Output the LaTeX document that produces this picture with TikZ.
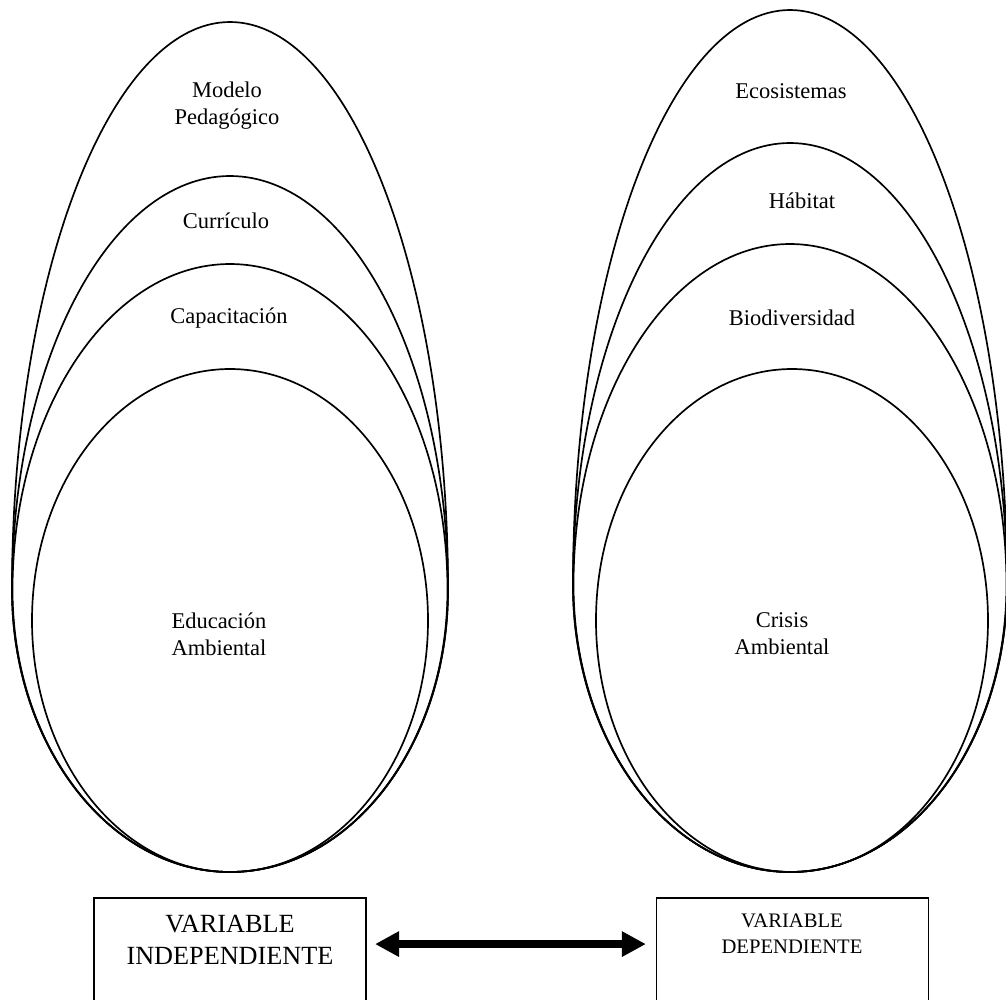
\documentclass[tikz,border=0pt]{standalone}
\usepackage{fontspec}
\setmainfont{Liberation Serif}
\usetikzlibrary{arrows.meta,positioning}
% egg: (centre of widest line)(half width : upper height : lower height)
\def\egg(#1)(#2:#3:#4){\draw (#1) ++(-#2,0) arc[start angle=180, end angle=360, x radius=#2, y radius=#3] arc[start angle=0, end angle=180, x radius=#2, y radius=#4] -- cycle;}

\tikzset{
  lbl/.style={align=center, font=\fontsize{12}{14.5}\selectfont, inner sep=0pt},
  varbox/.style={draw, line width=0.9pt, minimum width=5.1cm, minimum height=1.99cm, inner sep=0pt, outer sep=0pt},
  bigarrow/.style={line width=4.3pt, {Triangle[length=0.45cm,width=0.45cm]}-{Triangle[length=0.45cm,width=0.45cm]}}
}

\begin{document}
\begin{tikzpicture}[x=0.01875cm, y=-0.01875cm, line width=0.9pt]
	%%%%% FRAME %%%%%
	\useasboundingbox (0,0) rectangle (1006,1000);
	
	%%%%% LEFT: VARIABLE INDEPENDIENTE %%%%%
	\egg(230, 590)(218:568:282)
	\egg(230, 590)(218:414:282)
	\egg(230, 590)(217.5:326:282)
	\draw (230, 620.5) ellipse [x radius=198, y radius=251.5];
	
	\node[lbl] (modelo) at (227, 106) {Modelo\\Pedagógico};
	\node[lbl] (curriculo) at (226, 221) {Currículo};
	\node[lbl] (capac) at (229, 318) {Capacitación};
	\node[lbl] (educ) at (219, 634) {Educación\\Ambiental};
	
	%%%%% RIGHT: VARIABLE DEPENDIENTE %%%%%
	\egg(790, 585)(217:575:287)
	\egg(790, 585)(217:442:287)
	\egg(790, 585)(216.5:341:287)
	\draw (792, 620.5) ellipse [x radius=196, y radius=251.5];
	
	\node[lbl] (ecosis) at (791, 91) {Ecosistemas};
	\node[lbl] (habitat) at (802, 201) {Hábitat};
	\node[lbl] (biodiv) at (792, 318) {Biodiversidad};
	\node[lbl] (crisis) at (782, 634) {Crisis\\Ambiental};
	
	%%%%% BOXES %%%%%
	\node[varbox] (indep) at (230, 951) {};
	\node[varbox] (dep) at (792.5, 951) {};
	\node[lbl, font=\fontsize{14}{17}\selectfont] (indeptxt) at (230, 940) {VARIABLE\\INDEPENDIENTE};
	\node[lbl, font=\fontsize{11}{13.9}\selectfont] (deptxt) at (792, 934) {VARIABLE\\DEPENDIENTE};
	
	\draw[bigarrow, shorten <=0.17cm, shorten >=0.2cm] ([yshift=0.13cm]indep.east) -- ([yshift=0.13cm]dep.west);
	
\end{tikzpicture}
\end{document}
